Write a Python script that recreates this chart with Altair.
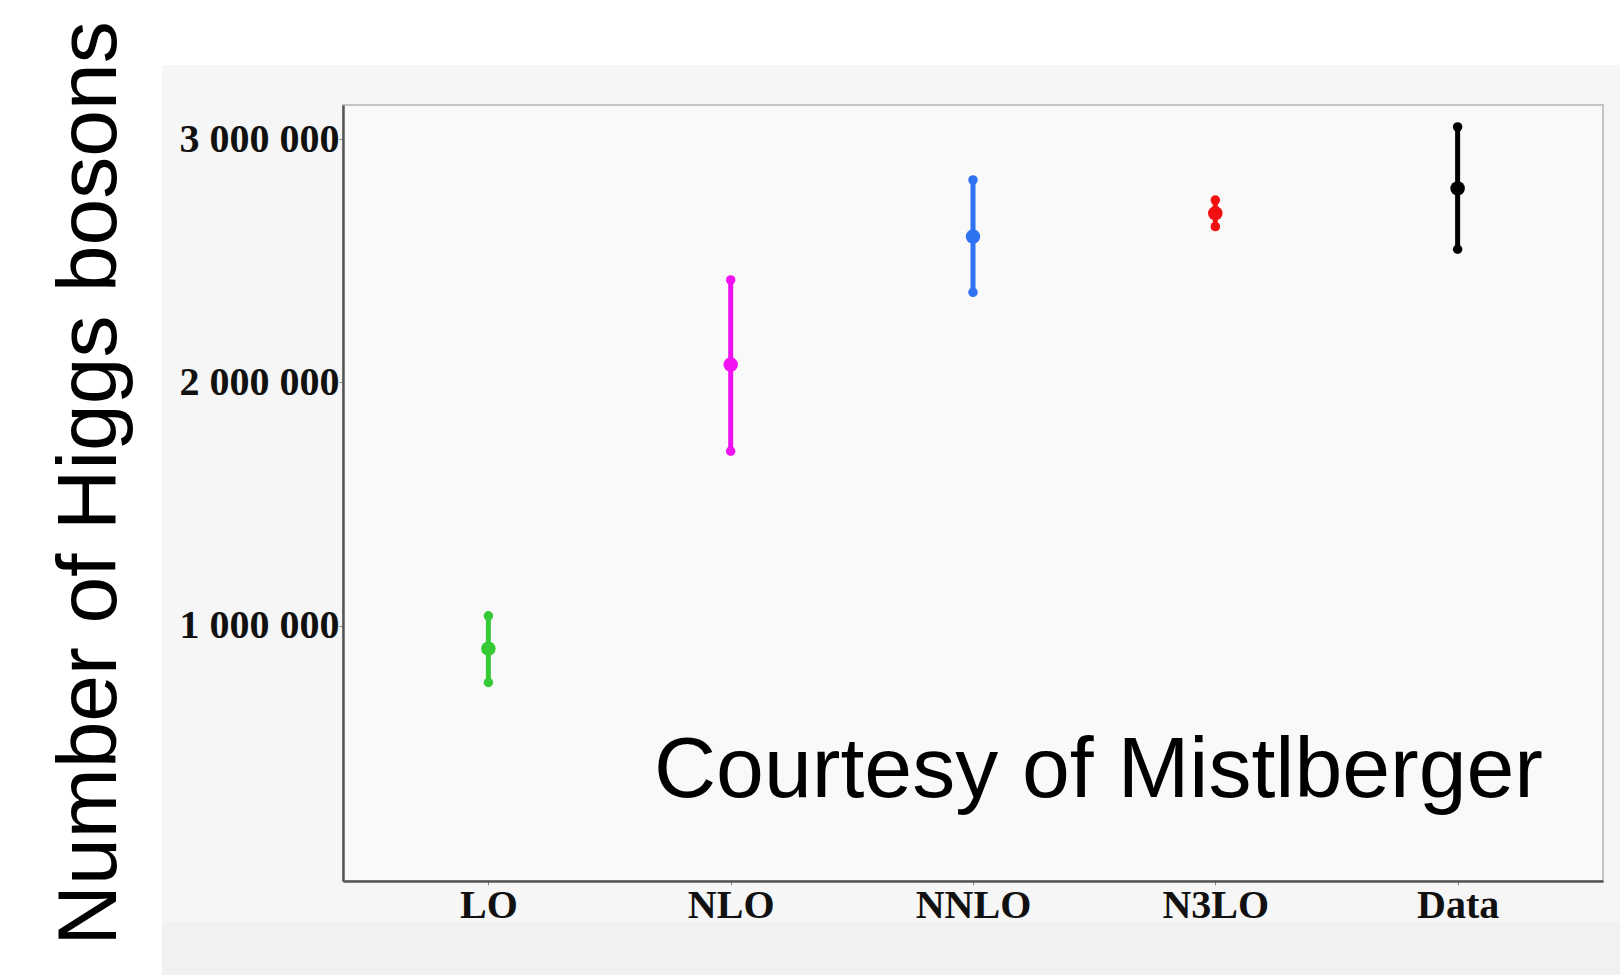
import altair as alt
import pandas as pd

# Perturbative orders and measured value
orders = ["LO", "NLO", "NNLO", "N3LO", "Data"]
central = [905000, 2073000, 2599000, 2695000, 2797000]
lower = [766000, 1717000, 2370000, 2640000, 2547000]
upper = [1040000, 2421000, 2832000, 2749000, 3050000]
colors = ["#36c936", "#f012f0", "#2f72f2", "#f01010", "#000000"]
y_ticks = [1000000, 2000000, 3000000]

df = pd.DataFrame({"order": orders, "central": central, "lower": lower, "upper": upper})

W, H = 1260, 776
PAD = {"left": 343, "top": 105, "right": 17, "bottom": 94}

x_enc = alt.X(
    "order:N",
    sort=orders,
    scale=alt.Scale(type="point", padding=0.6),
    axis=alt.Axis(
        title=None,
        labelFont="Liberation Serif",
        labelFontWeight="bold",
        labelFontSize=40,
        labelColor="#111111",
        labelPadding=0,
        tickSize=4,
        tickColor="#888888",
        domainColor="#555555",
        domainWidth=2.5,
        labelAngle=0,
        zindex=1,
    ),
)
y_scale = alt.Scale(domain=[-50000, 3140000], nice=False, zero=False)
color_enc = alt.Color("order:N", scale=alt.Scale(domain=orders, range=colors), legend=None)

y_axis = alt.Axis(
    title="Number of Higgs bosons",
    titleFont="Liberation Sans",
    titleFontWeight="normal",
    titleFontSize=84,
    titleColor="#000000",
    titleAngle=270,
    titleAlign="center",
    titleBaseline="alphabetic",
    titleX=-228,
    titleY=378,
    values=y_ticks,
    labelExpr="replace(replace(format(datum.value, ','), ',', ' '), ',', ' ')",
    labelFont="Liberation Serif",
    labelFontWeight="bold",
    labelFontSize=40,
    labelColor="#111111",
    labelPadding=0,
    tickSize=4,
    tickColor="#888888",
    domainColor="#555555",
    domainWidth=2.5,
    grid=False,
    zindex=1,
)

# Page panels around the plot area
one = alt.Data(values=[{"k": 1}])
top_strip = alt.Chart(one).mark_rect(color="white").encode(
    x=alt.value(-PAD["left"]), x2=alt.value(W + PAD["right"]),
    y=alt.value(-PAD["top"]), y2=alt.value(-40),
)
left_strip = alt.Chart(one).mark_rect(color="white").encode(
    x=alt.value(-PAD["left"]), x2=alt.value(-181),
    y=alt.value(-PAD["top"]), y2=alt.value(H + PAD["bottom"]),
)
bottom_band = alt.Chart(one).mark_rect(color="#f1f1f1").encode(
    x=alt.value(-181), x2=alt.value(W + PAD["right"]),
    y=alt.value(817), y2=alt.value(H + PAD["bottom"]),
)

base = alt.Chart(df)

bars = base.mark_rule(strokeWidth=5, strokeCap="round").encode(
    x=x_enc,
    y=alt.Y("lower:Q", scale=y_scale, axis=y_axis),
    y2="upper:Q",
    color=color_enc,
)
caps_low = base.mark_point(filled=True, shape="circle", size=90, opacity=1).encode(
    x=alt.X("order:N", sort=orders), y=alt.Y("lower:Q", scale=y_scale), color=color_enc
)
caps_high = base.mark_point(filled=True, shape="circle", size=90, opacity=1).encode(
    x=alt.X("order:N", sort=orders), y=alt.Y("upper:Q", scale=y_scale), color=color_enc
)
dots = base.mark_point(filled=True, shape="circle", size=210, opacity=1).encode(
    x=alt.X("order:N", sort=orders), y=alt.Y("central:Q", scale=y_scale), color=color_enc
)

credit = alt.Chart(one).mark_text(
    text="Courtesy of Mistlberger",
    font="Liberation Sans",
    fontSize=86,
    color="#000000",
    align="left",
    baseline="alphabetic",
).encode(x=alt.value(311), y=alt.value(692))

chart = alt.layer(
    top_strip, left_strip, bottom_band, bars, caps_low, caps_high, dots, credit
).properties(
    width=W,
    height=H,
    autosize=alt.AutoSizeParams(type="none"),
    padding=PAD,
    background="#f6f6f6",
).configure_view(
    fill="#f9f9f9",
    stroke="#c4c4c4",
    strokeWidth=2,
)

chart.save("out.html", embed_options={"renderer": "svg", "actions": False})
